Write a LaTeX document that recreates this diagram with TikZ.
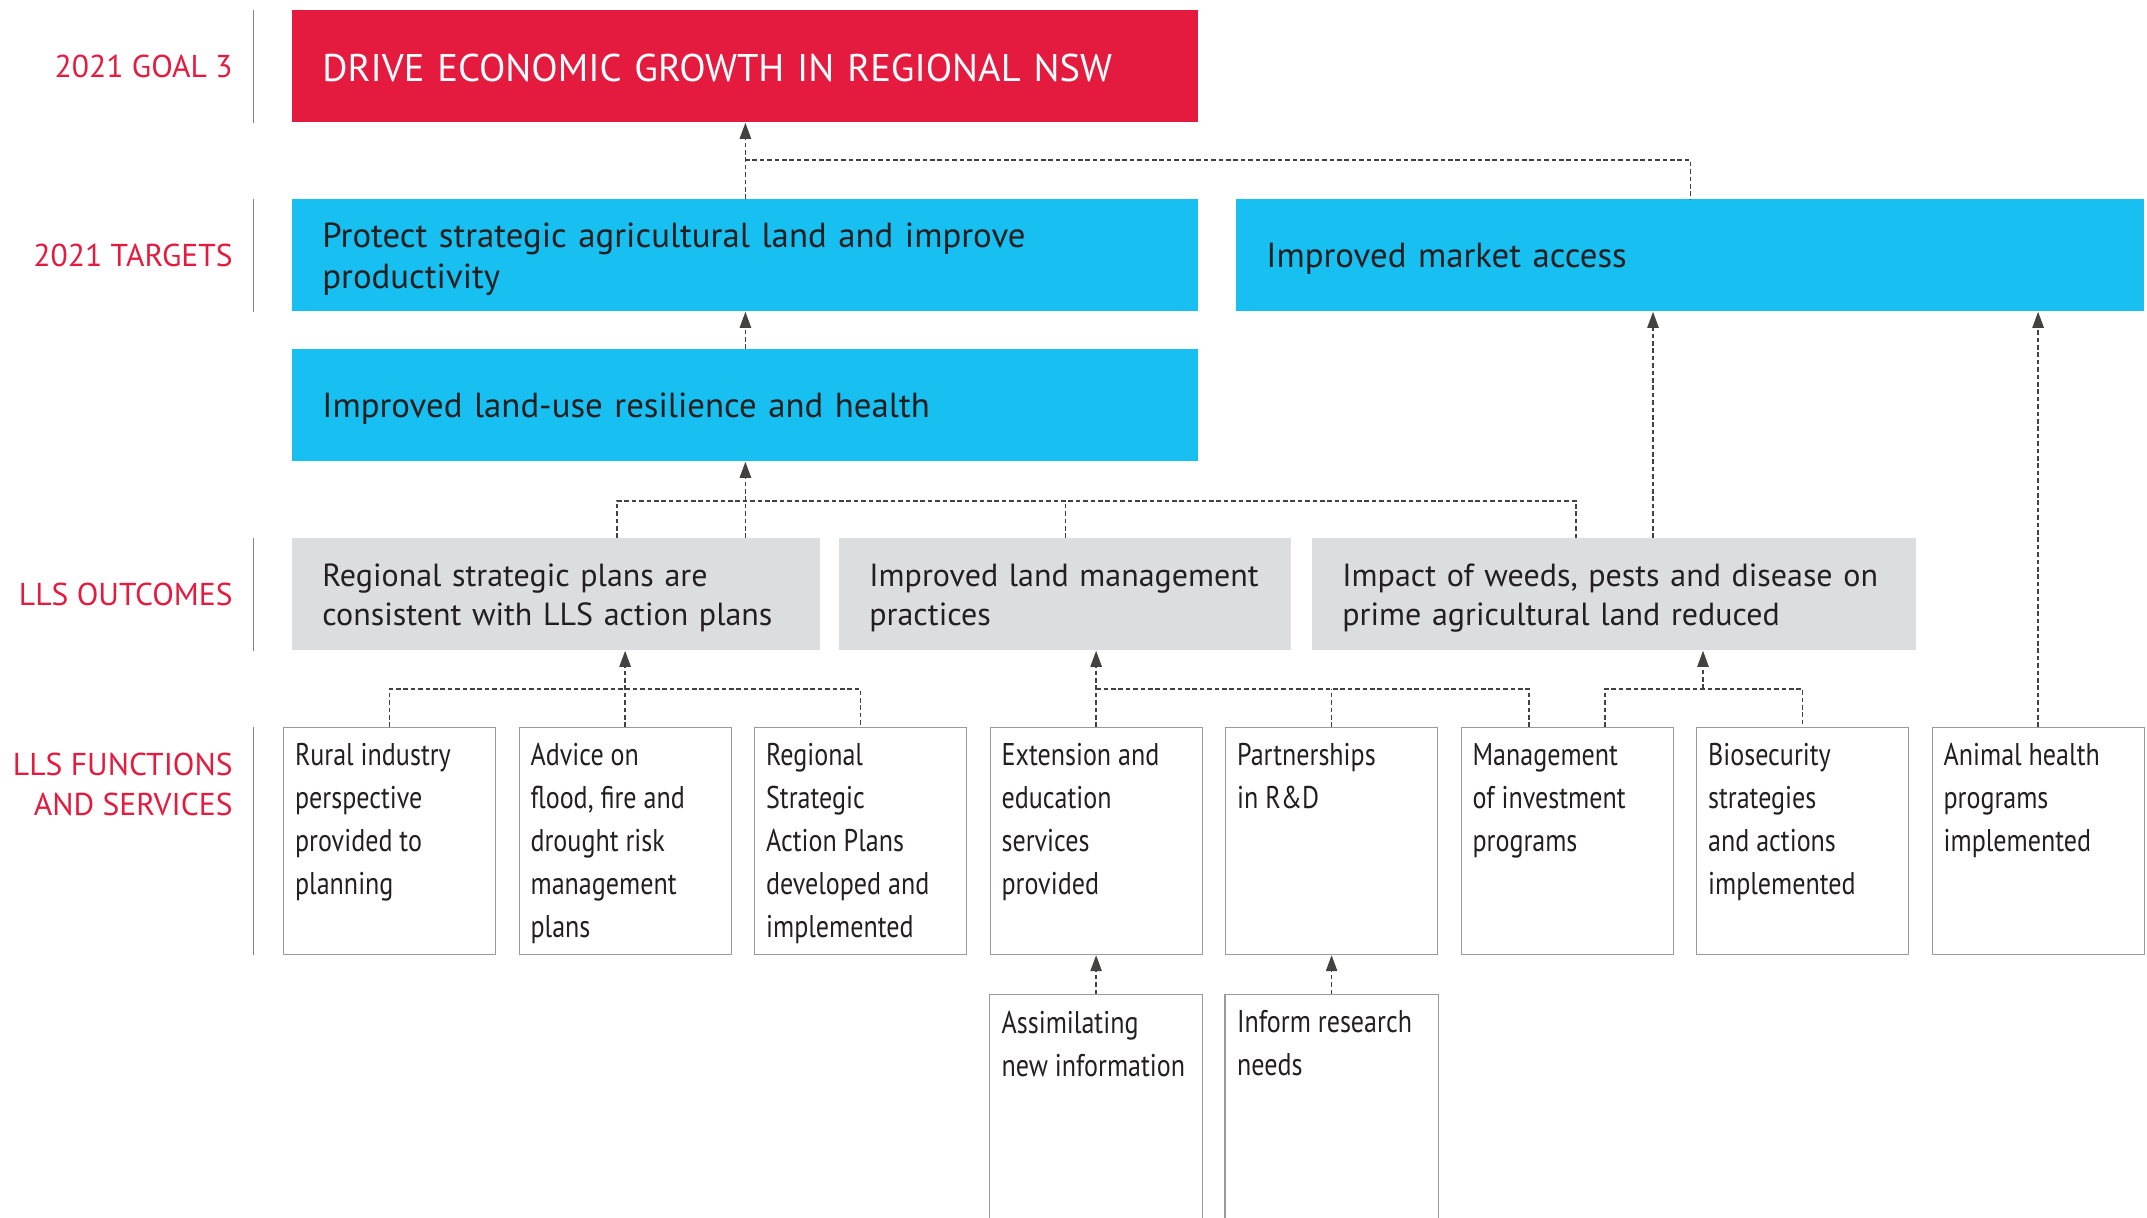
\documentclass[tikz,border=0pt]{standalone}
\usepackage{fontspec}
\setmainfont{PT Sans}
\newfontfamily\narrowfont{PT Sans}[FakeStretch=0.83]
\usetikzlibrary{arrows.meta,positioning}
\definecolor{goalred}{HTML}{E41A3F}
\definecolor{skyblue}{HTML}{17C0F0}
\definecolor{paleslate}{HTML}{DCDDDF}
\definecolor{ink}{HTML}{231F20}
\newcommand{\fntext}[2][97.5pt]{\begin{minipage}[c][#1][t]{94.5pt}#2\end{minipage}}

\begin{document}
\begin{tikzpicture}[x=0.5pt,y=-0.5pt]
  \tikzstyle{lvl}=[anchor=east,text=goalred,align=right,inner sep=0pt,font=\fontsize{15.8}{20}\selectfont]
  \tikzstyle{rule}=[draw=ink!55,line width=0.5pt]
  \tikzstyle{bar}=[anchor=north west,inner xsep=15pt,inner ysep=0pt,minimum height=56pt,align=left,text=ink,font=\fontsize{16}{19.5}\selectfont,execute at begin node=\rule{0pt}{15pt}]
  \tikzstyle{goalbox}=[bar,fill=goalred,text=white,font=\fontsize{19.3}{22}\selectfont,execute at begin node={}]
  \tikzstyle{tgtbox}=[bar,fill=skyblue,font=\fontsize{17.4}{20.5}\selectfont,execute at begin node=\rule{0pt}{16pt}]
  \tikzstyle{outbox}=[bar,fill=paleslate]
  \tikzstyle{fnbox}=[anchor=north west,draw=ink!45,line width=0.6pt,inner xsep=5.75pt,inner ysep=8pt,text=ink,font=\narrowfont\fontsize{15.7}{21.5}\selectfont]
  \tikzstyle{openbox}=[fnbox,draw=none]
  \tikzstyle{link}=[draw=ink!85,line width=0.65pt,dash pattern=on 2.3pt off 1.4pt]
  \tikzstyle{feeds}=[link,-{Triangle[length=8pt,width=5.7pt]}]
  \useasboundingbox (0,0) rectangle (2147,1217);

  \node[goalbox,text width=423pt] (goal) at (292,10) {DRIVE ECONOMIC GROWTH IN REGIONAL NSW};
  \node[tgtbox,text width=423pt] (t1) at (292,199) {Protect strategic agricultural land and improve\\productivity};
  \node[tgtbox,text width=424pt] (t2) at (1236,199) {Improved market access};
  \node[tgtbox,text width=423pt] (land) at (292,349) {Improved land-use resilience and health};
  \node[outbox,text width=234pt] (g1) at (292,538) {Regional strategic plans are\\consistent with LLS action plans};
  \node[outbox,text width=196pt] (g2) at (839,538) {Improved land management\\practices};
  \node[outbox,text width=272pt] (g3) at (1312,538) {Impact of weeds, pests and disease on\\prime agricultural land reduced};

  \node[fnbox] (f1) at (283,727) {\fntext{Rural industry\\perspective\\provided to\\planning}};
  \node[fnbox,right=11.15pt of f1] (f2) {\fntext{Advice on\\flood, fire and\\drought risk\\management\\plans}};
  \node[fnbox,right=11.15pt of f2] (f3) {\fntext{Regional\\Strategic\\Action Plans\\developed and\\implemented}};
  \node[fnbox,right=11.15pt of f3] (f4) {\fntext{Extension and\\education\\services\\provided}};
  \node[fnbox,right=11.15pt of f4] (f5) {\fntext{Partnerships\\in R\&D}};
  \node[fnbox,right=11.15pt of f5] (f6) {\fntext{Management\\of investment\\programs}};
  \node[fnbox,right=11.15pt of f6] (f7) {\fntext{Biosecurity\\strategies\\and actions\\implemented}};
  \node[fnbox,right=11.15pt of f7] (f8) {\fntext{Animal health\\programs\\implemented}};
  \node[openbox,below=19.5pt of f4] (a1) {\fntext[96pt]{Assimilating\\new information}};
  \node[openbox,below=19.5pt of f5] (a2) {\fntext[96pt]{Inform research\\needs}};
  \draw[fnbox] (a1.south west) |- (a1.north east) -- (a1.south east);
  \draw[fnbox] (a2.south west) |- (a2.north east) -- (a2.south east);

  \coordinate (rl) at (253,0);
  \node[lvl] (lgoal) at (233,66) {2021 GOAL 3};
  \node[lvl] (ltgt) at (233,255) {2021 TARGETS};
  \node[lvl] (lout) at (233,594) {LLS OUTCOMES};
  \node[lvl] (lfn) at (233,784) {LLS FUNCTIONS\\AND SERVICES};
  \draw[rule] (goal.north -| rl) -- (goal.south -| rl);
  \draw[rule] (t1.north -| rl) -- (t1.south -| rl);
  \draw[rule] (g1.north -| rl) -- (g1.south -| rl);
  \draw[rule] (f1.north -| rl) -- (f1.south -| rl);

  \coordinate (jt) at (745,160);
  \coordinate (jo) at (617,501);
  \coordinate (jo3) at (1576,501);
  \coordinate (m3) at (1653,538);
  \coordinate (jf) at (0,689);
  \coordinate (k6) at (1529,727);
  \coordinate (l6) at (1605,727);
  \coordinate (m7) at (1703,689);

  \draw[feeds] (t1.north) -- (goal.south);
  \draw[link] (jt) -| (t2.north);
  \draw[feeds] (land.north) -- (t1.south);
  \draw[link] (jo |- g1.north) -- (jo) -- (jo3) -- (jo3 |- g3.north);
  \draw[link] (g2.north) -- (g2.north |- jo);
  \draw[feeds] (g1.north -| land.south) -- (land.south);
  \draw[feeds] (m3) -- (m3 |- t2.south);
  \draw[feeds] (f8.north) -- (f8.north |- t2.south);

  \draw[link] (f1.north) -- (f1.north |- jf) -- (f3.north |- jf) -- (f3.north);
  \draw[feeds] (f2.north) -- (f2.north |- g1.south);
  \draw[feeds] (f4.north) -- (f4.north |- g2.south);
  \draw[link] (f4.north |- jf) -- (k6 |- jf) -- (k6);
  \draw[link] (f5.north) -- (f5.north |- jf);
  \draw[link] (l6) -- (l6 |- jf) -- (f7.north |- jf) -- (f7.north);
  \draw[feeds] (m7) -- (m7 |- g3.south);
  \draw[feeds] (a1.north) -- (f4.south);
  \draw[feeds] (a2.north) -- (f5.south);
\end{tikzpicture}
\end{document}
